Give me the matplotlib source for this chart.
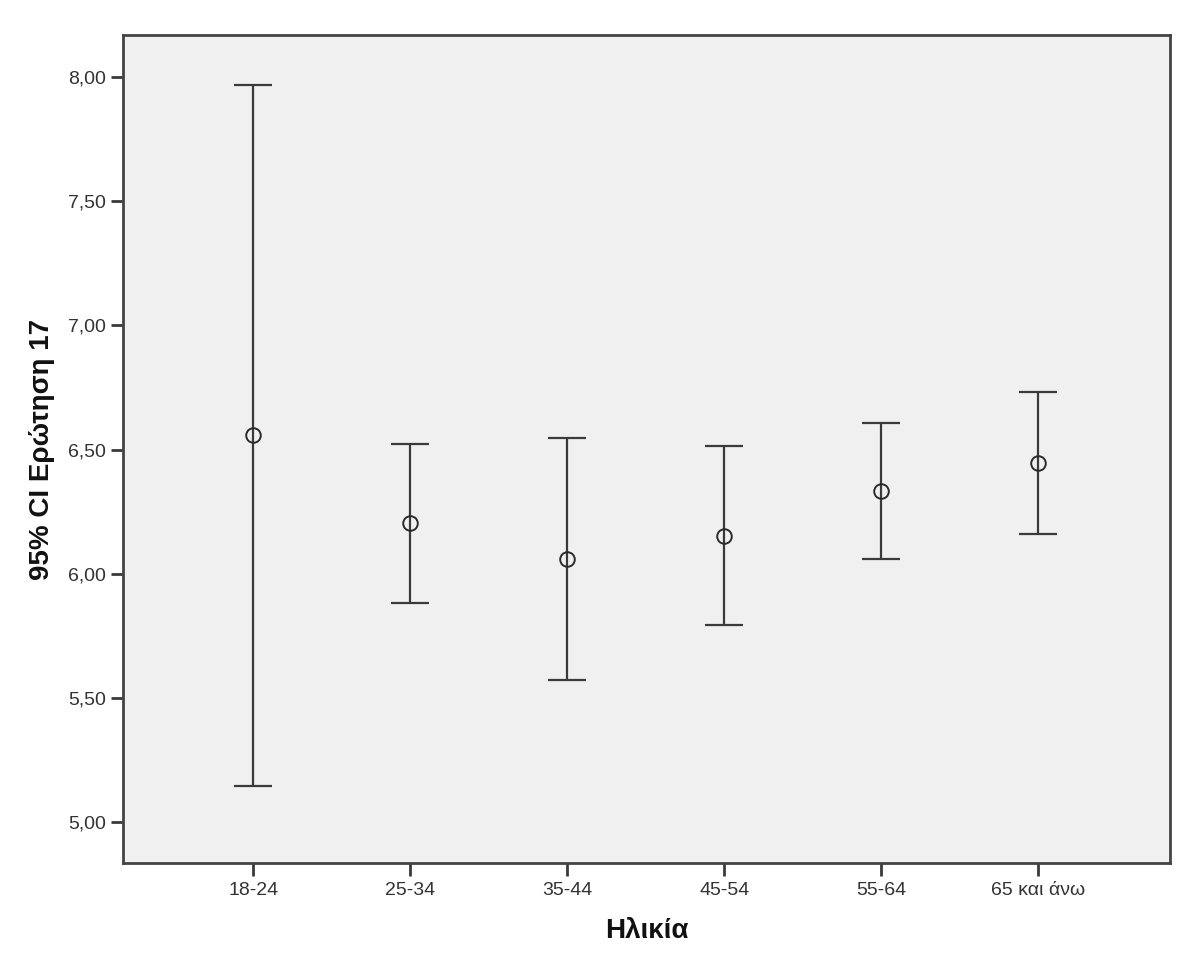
import numpy as np
import matplotlib
matplotlib.use('Agg')
import matplotlib.pyplot as plt
from matplotlib.ticker import FuncFormatter

plt.rcParams['font.family'] = ['Liberation Sans', 'DejaVu Sans']

groups = ['18-24', '25-34', '35-44', '45-54', '55-64', '65 και άνω']
means = [6.558, 6.204, 6.059, 6.151, 6.333, 6.445]
upper = [7.968, 6.522, 6.546, 6.514, 6.607, 6.731]
lower = [5.145, 5.882, 5.572, 5.793, 6.059, 6.160]

means = np.array(means)
yerr = np.vstack((means - np.array(lower), np.array(upper) - means))
x = np.arange(len(groups))

fig = plt.figure(figsize=(12, 9.71), dpi=100)
ax = fig.add_axes([0.1025, 0.1112, 0.8725, 0.8528])
ax.set_facecolor('#f0f0f0')

ax.errorbar(x, means, yerr=yerr, fmt='none', ecolor='#3a3a3a',
            elinewidth=1.6, capsize=14, capthick=1.6)
ax.plot(x, means, 'o', markersize=10.5, markerfacecolor='none',
        markeredgecolor='#2a2a2a', markeredgewidth=1.4)

ax.set_xlim(-0.83, 5.84)
ax.set_ylim(4.835, 8.17)
ax.set_xticks(x)
ax.set_xticklabels(groups)
ax.set_yticks([5.0, 5.5, 6.0, 6.5, 7.0, 7.5, 8.0])
ax.yaxis.set_major_formatter(FuncFormatter(lambda v, p: f'{v:.2f}'.replace('.', ',')))
ax.tick_params(axis='both', direction='out', length=9, width=2, color='#3a3a3a',
               labelsize=14, labelcolor='#333333', pad=3)
ax.tick_params(axis='x', pad=5)

for s in ax.spines.values():
    s.set_linewidth(2)
    s.set_color('#444444')

ax.set_xlabel('Ηλικία', fontsize=20, fontweight='bold', labelpad=13, color='#111111')
ax.set_ylabel('95% CI Ερώτηση 17', fontsize=20, fontweight='bold', labelpad=10, color='#111111')

fig.savefig('out.png', dpi=100)
